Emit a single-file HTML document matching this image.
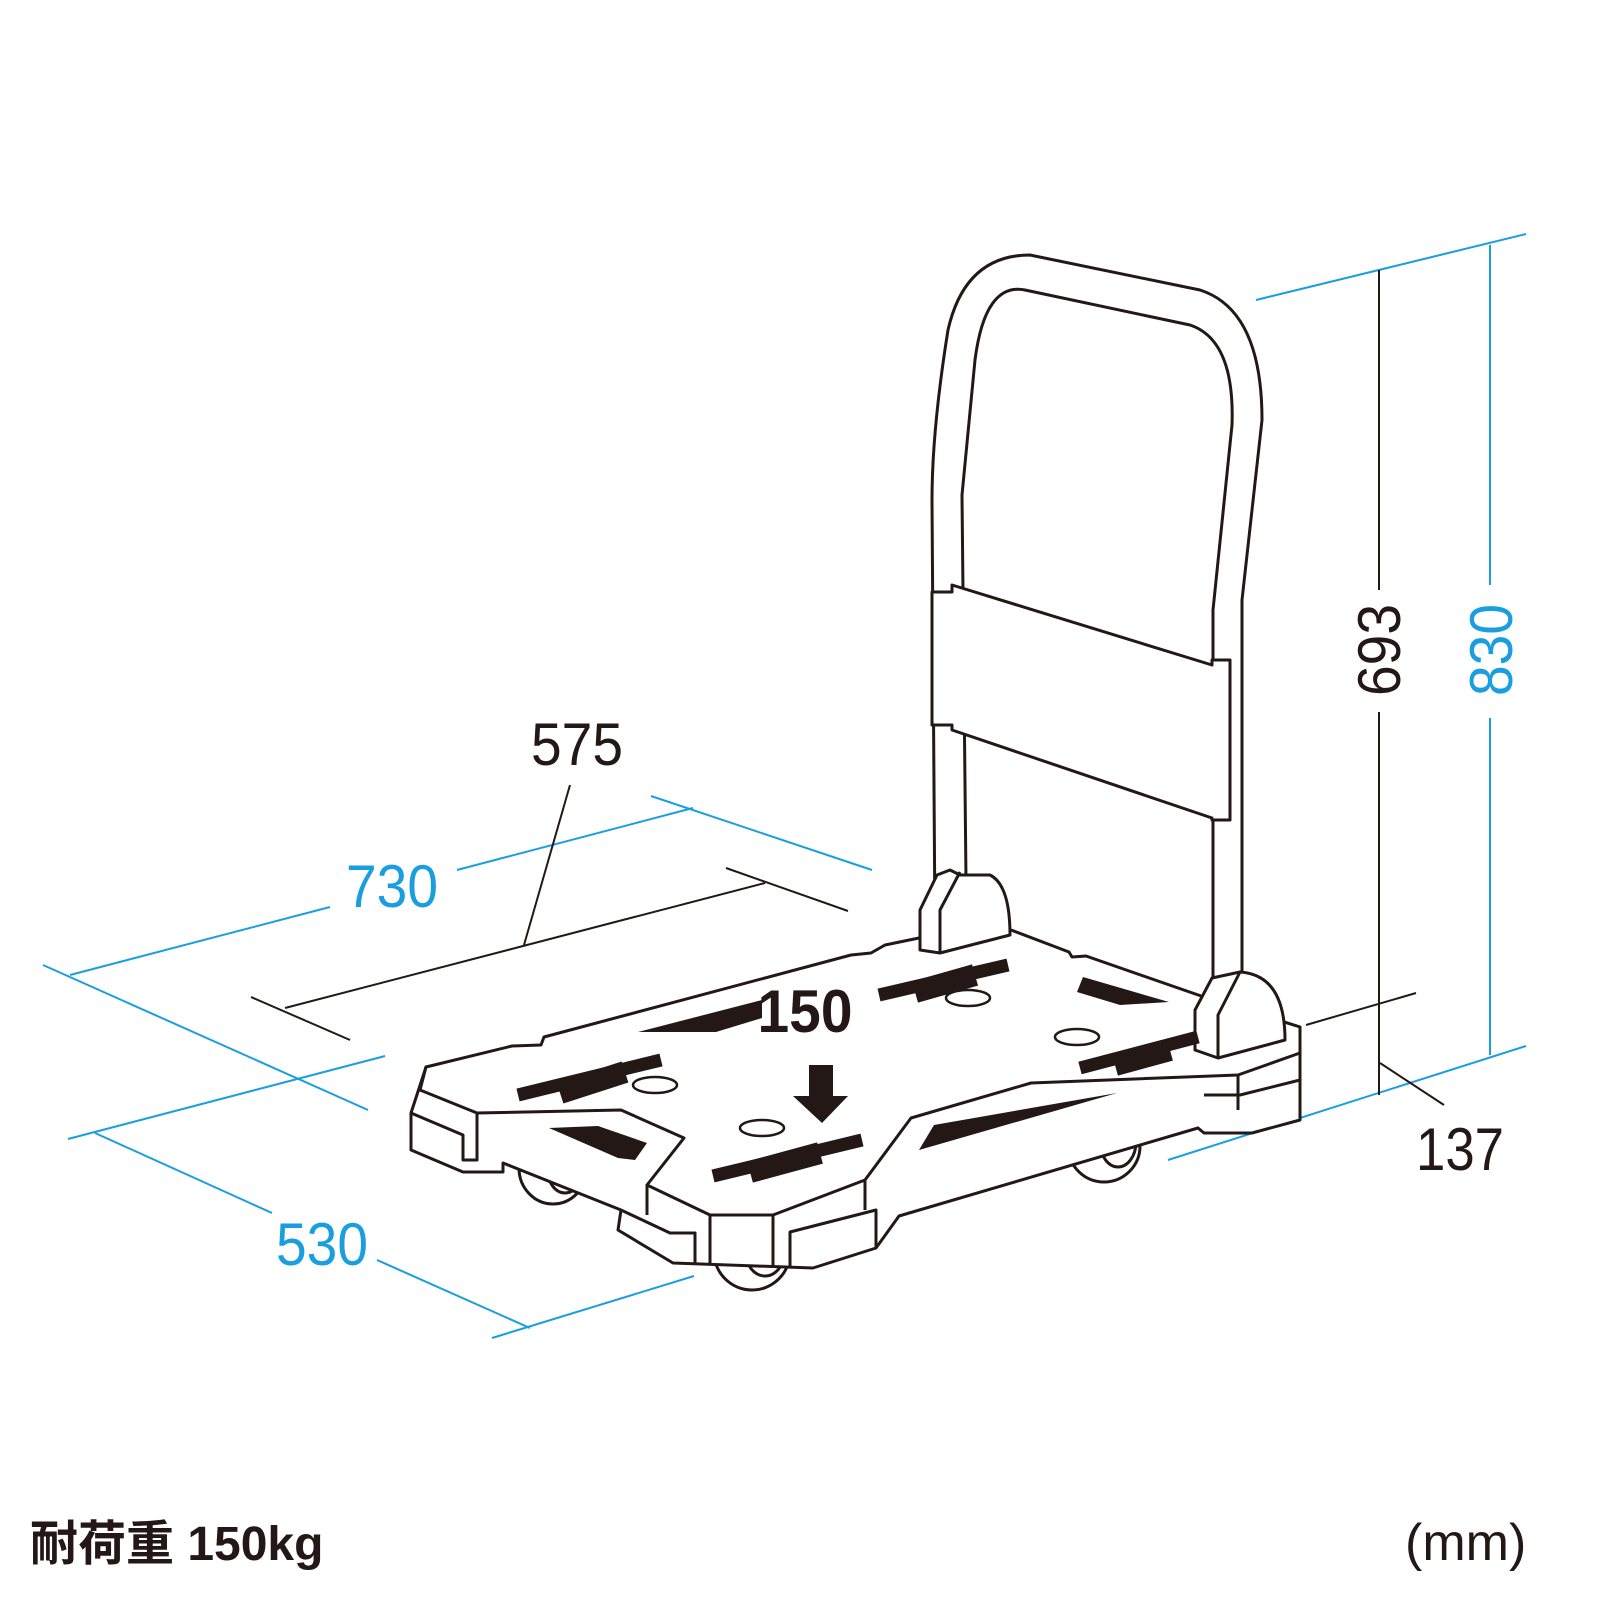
<!DOCTYPE html>
<html><head><meta charset="utf-8"><style>
html,body{margin:0;padding:0;background:#fff;width:1600px;height:1600px;overflow:hidden}
svg{display:block}
</style></head><body>
<svg width="1600" height="1600" viewBox="0 0 1600 1600" xmlns="http://www.w3.org/2000/svg">
<g stroke="#1a9ee0" stroke-width="2" fill="none">
<line x1="43" y1="965" x2="368" y2="1110"/>
<line x1="70" y1="975" x2="330" y2="907"/>
<line x1="457" y1="870" x2="693" y2="808"/>
<line x1="651" y1="796" x2="872" y2="870"/>
<line x1="68" y1="1139" x2="385" y2="1056"/>
<line x1="95" y1="1133" x2="272" y2="1213"/>
<line x1="377" y1="1260" x2="530" y2="1328"/>
<line x1="492" y1="1338" x2="694" y2="1276"/>
<line x1="1490" y1="245" x2="1490" y2="585"/>
<line x1="1490" y1="718" x2="1490" y2="1055"/>
<line x1="1256" y1="300" x2="1526" y2="234"/>
<line x1="1168" y1="1160" x2="1526" y2="1046"/>
</g>
<g stroke="#231815" stroke-width="2" fill="none">
<line x1="285" y1="1008" x2="765" y2="883"/>
<line x1="726" y1="868" x2="848" y2="911"/>
<line x1="251" y1="997" x2="350" y2="1040"/>
<line x1="570" y1="785" x2="524" y2="945"/>
<line x1="1379" y1="270" x2="1379" y2="590"/>
<line x1="1379" y1="712" x2="1379" y2="1095"/>
<line x1="1306" y1="1025" x2="1416" y2="993"/>
<line x1="1380" y1="1063" x2="1444" y2="1105"/>
</g>
<g stroke="#231815" stroke-width="3" fill="#fff" stroke-linejoin="round">
<!-- wheels -->
<ellipse cx="553" cy="1168" rx="34" ry="36"/><ellipse cx="565" cy="1168" rx="18" ry="25"/>
<ellipse cx="752" cy="1252" rx="38" ry="38"/><ellipse cx="765" cy="1250" rx="20" ry="26"/>
<ellipse cx="1104" cy="1146" rx="36" ry="36"/><ellipse cx="1118" cy="1142" rx="18" ry="25"/>
<!-- underside/body -->
<path d="M411,1113 L411,1150 L463,1172 L503,1172 L503,1163 L621,1210 L618,1230 L673,1263 L813,1268 L876,1248 L899,1216 L1198,1128 L1204,1133 L1252,1133 L1300,1120 L1300,1027 L1204,997 L426,1067 Z"/>
<!-- deck top -->
<path d="M426,1067 L512,1046 L541,1045 L544,1037 L851,955 L871,953 L885,945 L919,938 L1011,930 L1069,952 L1072,957 L1086,956 L1204,997 L1300,1027 L1300,1053 L1238,1075 L1031,1083 L911,1118 L865,1180 L773,1215 L710,1215 L647,1185 L684,1138 L621,1110 L477,1113 L420,1090 Z"/>
<!-- corner blocks -->
<path d="M411,1113 L463,1135 L463,1160 L477,1160 L477,1113" fill="none"/>
<path d="M621,1210 L670,1233 L695,1233 L695,1263" fill="none"/>
<path d="M876,1248 L876,1210 L790,1232 L790,1268" fill="none"/>
<path d="M1204,1095 L1240,1095 L1300,1080" fill="none"/>
<path d="M477,1113 L477,1150 M647,1185 L647,1215 M865,1180 L865,1210 M1238,1075 L1238,1110 M710,1215 L710,1265 M773,1215 L773,1268" fill="none"/>
<!-- handle -->
<path d="M935,930 L932,500 Q932,430 948,330 Q965,255 1030,255 L1200,290 Q1262,310 1262,420 L1242,600 L1242,1000 L1213,1000 L1213,610 L1232,425 Q1235,340 1190,325 L1025,290 Q985,282 975,360 L962,495 L966,880 Z"/>
<path d="M932,592 L952,592 L952,585 L1212,665 L1212,660 L1230,660 L1230,820 L1212,820 L1212,818 L952,730 L952,725 L932,725 Z"/>
<!-- feet -->
<path d="M920,950 L920,910 L937,875 L950,870 L960,875 L990,875 Q1010,885 1010,935 L940,953 Z"/>
<path d="M940,953 L940,910 L960,872"/>
<path d="M1195,1050 L1195,1010 L1212,978 L1240,972 Q1285,975 1285,1040 L1218,1058 Z"/>
<path d="M1218,1058 L1218,1015 L1240,972"/>
</g>
<g fill="#231815" stroke="none">
<polygon points="638,1032 762,1000 762,1018 716,1032"/>
<polygon points="919,1150 934,1125 1117,1093"/>
<polygon points="549,1128 598,1126 647,1143 635,1160 618,1158"/>
<polygon points="1083,977 1169,1002 1120,1005 1077,992"/>
<rect x="809" y="1065" width="24" height="31"/>
<polygon points="793,1096 848,1096 822,1123"/>
</g>
<g stroke="#231815" stroke-width="13" stroke-linecap="butt">
<line x1="518" y1="1095" x2="661" y2="1060"/><line x1="560" y1="1093" x2="625" y2="1072" stroke-width="22"/>
<line x1="879" y1="995" x2="1008" y2="965"/><line x1="915" y1="992" x2="975" y2="975" stroke-width="22"/>
<line x1="1080" y1="1068" x2="1198" y2="1037"/><line x1="1115" y1="1065" x2="1170" y2="1050" stroke-width="22"/>
<line x1="713" y1="1176" x2="862" y2="1140"/><line x1="750" y1="1172" x2="820" y2="1153" stroke-width="22"/>
</g>
<g stroke="#231815" stroke-width="2.5" fill="#fff">
<ellipse cx="655" cy="1085" rx="22" ry="8"/>
<ellipse cx="968" cy="998" rx="22" ry="8"/>
<ellipse cx="1077" cy="1037" rx="22" ry="8"/>
<ellipse cx="762" cy="1128" rx="22" ry="8"/>
</g>
<g font-family="Liberation Sans, sans-serif" font-size="60">
<text x="577" y="765" text-anchor="middle" fill="#231815" textLength="92" lengthAdjust="spacingAndGlyphs">575</text>
<text x="392" y="907" text-anchor="middle" fill="#1a9ee0" textLength="92" lengthAdjust="spacingAndGlyphs">730</text>
<text x="322" y="1265" text-anchor="middle" fill="#1a9ee0" textLength="92" lengthAdjust="spacingAndGlyphs">530</text>
<text x="1460" y="1170" text-anchor="middle" fill="#231815" textLength="88" lengthAdjust="spacingAndGlyphs">137</text>
<text transform="translate(1400,650) rotate(-90)" text-anchor="middle" fill="#231815" textLength="92" lengthAdjust="spacingAndGlyphs">693</text>
<text transform="translate(1512,650) rotate(-90)" text-anchor="middle" fill="#1a9ee0" textLength="92" lengthAdjust="spacingAndGlyphs">830</text>
<text x="805" y="1032" text-anchor="middle" fill="#231815" font-weight="bold" textLength="95" lengthAdjust="spacingAndGlyphs">150</text>
</g>
<text x="30" y="1560" font-family="Liberation Sans, 'Noto Sans CJK JP', sans-serif" font-weight="bold" font-size="48" fill="#231815">耐荷重 150kg</text>
<text x="1405" y="1560" font-family="Liberation Sans, sans-serif" font-size="52" fill="#231815">(mm)</text>
</svg>
</body></html>
